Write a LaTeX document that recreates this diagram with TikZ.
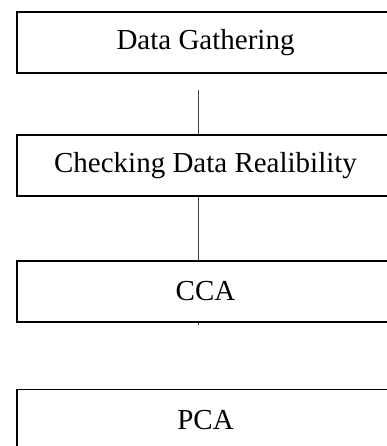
\documentclass[tikz,border=0pt]{standalone}
\usepackage{fontspec}
\setmainfont{Liberation Serif}
\tikzset{
	stage/.style={draw, line width=1.1pt, minimum width=377pt, minimum height=61pt, inner sep=0pt, font=\fontsize{29}{34}\selectfont},
	link/.style={line width=0.6pt, black!75}
}
\begin{document}
\begin{tikzpicture}[x=1pt, y=1pt]
	\useasboundingbox (0,0) rectangle (387,-446);
	\clip (0,0) rectangle (387,-446);
	%stages
	\node[stage] (gather) at (205.5, -42.5){Data Gathering};
	\node[stage] (check) at (205.5, -165.5){Checking Data Realibility};
	\node[stage] (cca) at (205.5, -291.5){CCA};
	\node[stage] (pca) at (205.5, -420){PCA};
	
	%connectors
	\coordinate (top) at (198, -90);
	\draw[link] (top) -- (top |- check.north);
	\draw[link] (top |- check.south) -- (top |- cca.north);
	\coordinate (tick) at (198, -325);
	\draw[link] (top |- cca.south) -- (tick);
\end{tikzpicture}
\end{document}
